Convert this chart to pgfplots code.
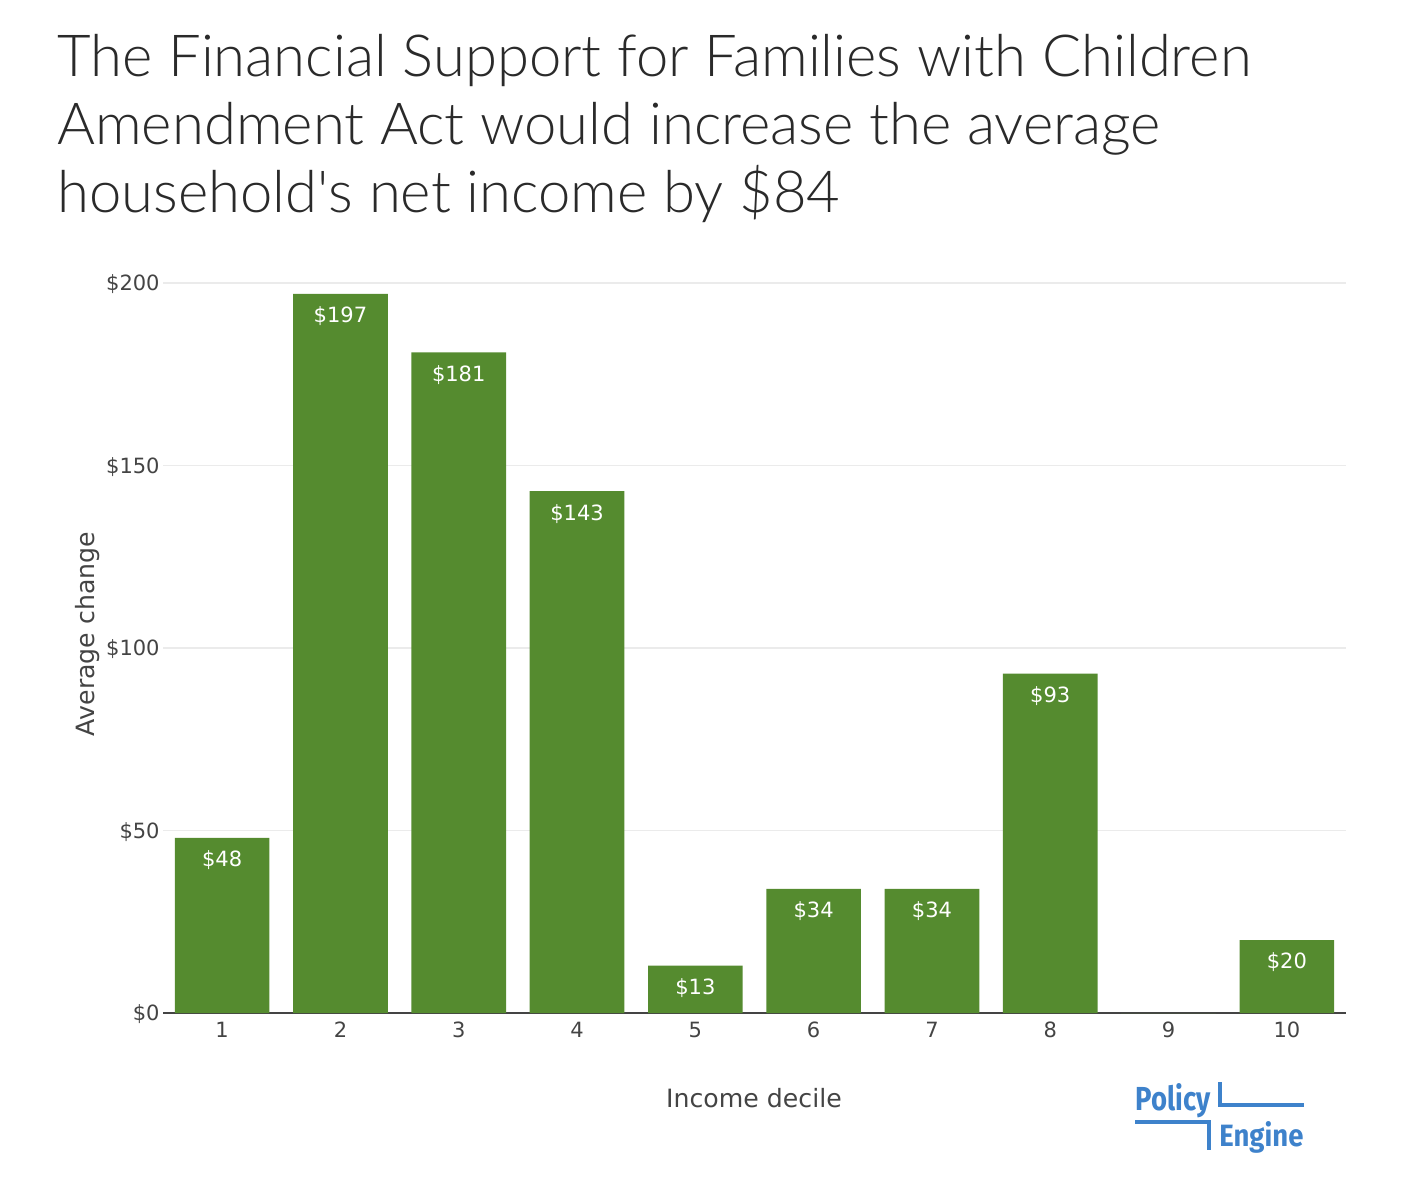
\documentclass[border=0pt]{standalone}
\usepackage{graphicx}
\usepackage{pgfplots}
\pgfplotsset{compat=1.18}
\usepackage{fontspec}
\setmainfont{DejaVu Sans}
\newfontfamily\tickfont{DejaVu Sans}
\newfontfamily\titlefont{Lato Light}
\newfontfamily\logofont{Fira Sans}
\definecolor{barg}{RGB}{85,139,47}
\definecolor{txt}{RGB}{68,68,68}
\definecolor{ttl}{RGB}{42,42,42}
\definecolor{gridc}{RGB}{235,235,235}
\definecolor{logob}{RGB}{62,130,203}
\begin{document}
\begin{tikzpicture}[x=0.5pt,y=-0.5pt]
\path[use as bounding box] (0,0) rectangle (1414,1192);
\coordinate (ao) at (163,1013);
% title
\node[anchor=base west, inner sep=0pt, text=ttl, font=\titlefont\fontsize{29}{34}\selectfont] at (57,77) {The Financial Support for Families with Children};
\node[anchor=base west, inner sep=0pt, text=ttl, font=\titlefont\fontsize{29}{34}\selectfont] at (57,145) {Amendment Act would increase the average};
\node[anchor=base west, inner sep=0pt, text=ttl, font=\titlefont\fontsize{29}{34}\selectfont] at (57,213) {household's net income by \$84};
\begin{axis}[
  at={(ao)}, anchor=south west,
  scale only axis, width=591.5pt, height=378.5pt,
  xmin=0.5, xmax=10.5, ymin=0, ymax=207.4,
  axis x line*=bottom, axis y line*=left,
  y axis line style={draw=none},
  x axis line style={draw=txt, line width=1pt, -},
  major tick length=0pt,
  ymajorgrids, grid style={gridc, line width=0.6pt},
  xtick={1,2,3,4,5,6,7,8,9,10},
  xticklabels={1,2,3,4,5,6,7,8,9,10},
  ytick={0,50,100,150,200},
  yticklabels={\$0,\$50,\$100,\$150,\$200},
  ticklabel style={font=\tickfont\fontsize{10.5}{12}\selectfont, text=txt},
  xticklabel style={anchor=north, inner sep=0pt, yshift=-4.5pt},
  yticklabel style={anchor=base east, inner sep=0pt, xshift=-1.5pt, yshift=-3.8pt},
  clip=false,
]
\addplot[ybar, bar width=0.8, fill=barg, draw=none,
  point meta=explicit symbolic,
  nodes near coords,
  every node near coord/.append style={anchor=north, inner sep=0pt, yshift=-6.3pt, text=white, font=\tickfont\fontsize{10.5}{12}\selectfont}]
coordinates {(1,48) [\$48] (2,197) [\$197] (3,181) [\$181] (4,143) [\$143] (5,13) [\$13] (6,34) [\$34] (7,34) [\$34] (8,93) [\$93] (9,0) [{}] (10,20) [\$20]};
\end{axis}
% axis titles
\node[rotate=90, inner sep=0pt, text=txt, font=\tickfont\fontsize{12.6}{14}\selectfont] at (88,634) {Average change};
\node[anchor=base, inner sep=0pt, text=txt, font=\tickfont\fontsize{12.6}{14}\selectfont] at (754,1107) {Income decile};
% logo
\draw[logob, line width=1.6pt] (1220,1082) -- (1220,1105) -- (1304,1105);
\draw[logob, line width=1.6pt] (1135,1122) -- (1209,1122) -- (1209,1150);
\node[anchor=base west, inner sep=0pt, text=logob] at (1135,1110) {\resizebox{37.5pt}{13.5pt}{\logofont\bfseries Policy}};
\node[anchor=base west, inner sep=0pt, text=logob] at (1219,1146) {\resizebox{42pt}{12.5pt}{\logofont\bfseries Engine}};
\end{tikzpicture}
\end{document}
